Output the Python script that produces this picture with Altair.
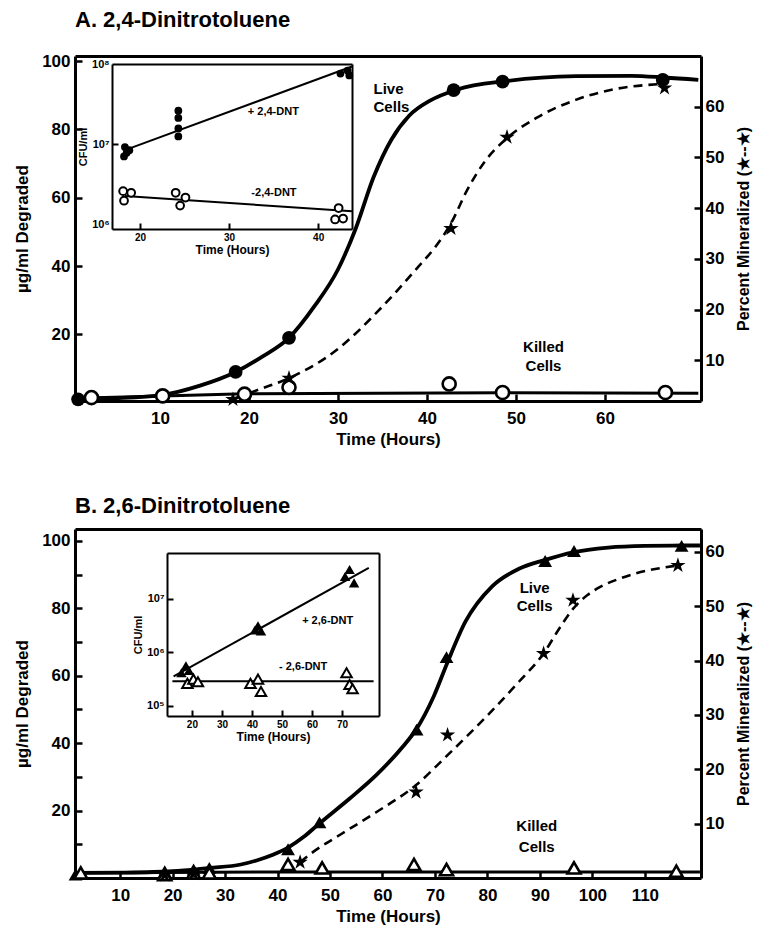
import altair as alt
import pandas as pd

FONT = "Liberation Sans"
STAR = ("M0,-1L0.2245,-0.309L0.951,-0.309L0.363,0.118L0.588,0.809L0,0.382"
        "L-0.588,0.809L-0.363,0.118L-0.951,-0.309L-0.2245,-0.309Z")

# ---------------- Panel A: 2,4-Dinitrotoluene ----------------
a_live_t = [0.8, 18.5, 24.5, 43.0, 48.5, 66.5]
a_live_v = [1.0, 9.0, 19.0, 91.5, 94.0, 94.5]
a_livecurve_t = [0.5, 5, 10.3, 14.5, 18.5, 21.5, 24.5, 27.4, 30.0, 32.0, 34.0, 36.0, 38.0,
                 40.4, 43.4, 49.0, 56.8, 63.0, 66.7, 70.5]
a_livecurve_v = [1.0, 1.3, 2.3, 5.0, 9.0, 13.5, 19.0, 28.4, 39.0, 51.0, 66.0, 77.0, 84.0,
                 88.5, 91.7, 94.2, 95.6, 95.7, 95.2, 94.5]
a_killed_t = [2.3, 10.3, 19.5, 24.5, 42.5, 48.5, 66.8]
a_killed_v = [1.5, 2.0, 2.5, 4.5, 5.5, 3.0, 3.0]
a_killedline_t = [0.5, 10.3, 19.5, 48.5, 70.5]
a_killedline_v = [1.3, 2.0, 2.6, 2.9, 2.8]
a_star_t = [18.2, 24.5, 42.7, 49.0, 66.7]
a_star_p = [2.3, 6.5, 36.0, 54.0, 63.7]
a_dash_t = [18.5, 21.5, 24.5, 30.1, 34.5, 38.9, 41.0, 42.7, 44.5, 46.5, 49.0, 52.3, 56.8,
            61.2, 66.7]
a_dash_p = [2.6, 4.5, 6.5, 12.4, 19.7, 28.2, 32.5, 37.0, 43.5, 49.2, 53.8, 57.8, 61.4,
            63.5, 64.5]
a_text_t = [34.0, 34.0, 53.1, 53.1]
a_text_v = [91.8, 86.5, 16.4, 10.8]
a_text_s = ["Live", "Cells", "Killed", "Cells"]
a_text_al = ["left", "left", "center", "center"]

# inset A (CFU/ml)
ai_fill_t = [18.2, 18.5, 18.3, 18.8, 24.3, 24.3, 24.3, 24.3, 42.5, 43.3, 43.5]
ai_fill_c = [7.1e6, 7.9e6, 9.3e6, 8.5e6, 1.26e7, 1.58e7, 2.14e7, 2.63e7, 7.6e7, 8.3e7, 7.2e7]
ai_open_t = [18.1, 19.0, 18.2, 24.0, 25.1, 24.5, 42.3, 41.9, 42.8]
ai_open_c = [2.63e6, 2.51e6, 2.0e6, 2.51e6, 2.19e6, 1.74e6, 1.62e6, 1.17e6, 1.2e6]
ai_line_t = [18.3, 43.8, 18.3, 43.8]
ai_line_c = [8.5e6, 9.3e7, 2.29e6, 1.48e6]
ai_line_g = ["plus", "plus", "minus", "minus"]
ai_text_t = [32.1, 32.5]
ai_text_c = [2.5e7, 2.5e6]
ai_text_s = ["+ 2,4-DNT", "-2,4-DNT"]

# ---------------- Panel B: 2,6-Dinitrotoluene ----------------
b_live_t = [1.5, 18.5, 24.0, 27.0, 42.0, 48.0, 66.5, 72.2, 91.0, 96.5, 117.0]
b_live_v = [1.0, 2.0, 2.5, 3.0, 8.5, 16.5, 44.0, 65.5, 94.0, 97.0, 98.5]
b_livecurve_t = [1.4, 10, 20, 27, 33, 36, 39, 42.0, 45.0, 47.7, 53.7, 58.8, 63.9, 66.4, 69.8,
                 72.4, 75.8, 80.9, 86.0, 90.7, 96.3, 103, 110, 117, 120.5]
b_livecurve_v = [1.5, 1.6, 2.0, 3.0, 4.0, 5.2, 6.8, 9.0, 12.2, 15.8, 23.5, 30.5, 39.0, 44.0,
                 54.0, 64.0, 76.0, 86.5, 91.7, 94.2, 96.6, 98.0, 98.5, 98.6, 98.6]
b_killed_t = [2.5, 18.5, 24.0, 27.0, 42.0, 48.5, 66.0, 72.2, 96.5, 116.0]
b_killed_v = [1.5, 1.0, 1.5, 1.5, 4.0, 3.0, 4.0, 2.5, 3.0, 2.0]
b_killedline_t = [1.4, 40, 120.5]
b_killedline_v = [1.5, 1.8, 1.8]
b_star_t = [18.5, 24.0, 44.3, 66.4, 72.4, 90.7, 96.3, 116.3]
b_star_p = [0.5, 0.8, 2.9, 15.8, 26.3, 41.3, 51.1, 57.5]
b_dash_t = [44.3, 46.8, 52, 58.8, 66.4, 72.4, 80.0, 86.0, 90.7, 93.7, 96.3, 99.0, 101.4,
            105.0, 108.2, 116.3]
b_dash_p = [2.9, 4.8, 8.0, 12.1, 17.1, 22.6, 29.9, 36.1, 41.3, 45.9, 49.5, 52.0, 53.5,
            55.0, 56.0, 57.5]
b_text_t = [89.0, 89.0, 89.4, 89.4]
b_text_v = [85.9, 80.6, 15.3, 9.2]
b_text_s = ["Live", "Cells", "Killed", "Cells"]
b_text_al = ["center", "center", "center", "center"]

# inset B (CFU/ml)
bi_fill_t = [16.5, 18.0, 19.0, 41.0, 42.0, 43.0, 71.0, 72.5, 74.0]
bi_fill_c = [4.17e5, 5.62e5, 4.57e5, 2.63e6, 3.16e6, 2.51e6, 2.63e7, 3.55e7, 2.0e7]
bi_open_t = [18.5, 20.5, 22.0, 39.5, 42.0, 43.0, 71.5, 72.5, 73.5]
bi_open_c = [2.63e5, 3.16e5, 2.82e5, 2.63e5, 3.16e5, 1.86e5, 4.17e5, 2.51e5, 2.09e5]
bi_line_t = [13.9, 78.9, 13.5, 80.5]
bi_line_c = [3.55e5, 3.8e7, 2.9e5, 2.9e5]
bi_line_g = ["plus", "plus", "minus", "minus"]
bi_text_t = [56.7, 49.0]
bi_text_c = [3.9e6, 5.4e5]
bi_text_s = ["+ 2,6-DNT", "- 2,6-DNT"]

W = 626
SUP = ("datum.value >= 5e7 ? '10\u2078' : datum.value >= 5e6 ? '10\u2077' : "
       "datum.value >= 5e5 ? '10\u2076' : '10\u2075'")


def X(field, scale):
    return alt.X(field, type="quantitative", scale=scale, axis=None)


def Y(field, scale):
    return alt.Y(field, type="quantitative", scale=scale, axis=None)


def ghost(xs, ys, xv, yv, xaxis=None, yaxis=None):
    d = pd.DataFrame({"x": [xv], "y": [yv]})
    return alt.Chart(d).mark_point(opacity=0).encode(
        x=alt.X("x:Q", scale=xs, axis=xaxis),
        y=alt.Y("y:Q", scale=ys, axis=yaxis),
    )


def tick_axis(orient, offset, values, size=7, width=2.5):
    return alt.Axis(orient=orient, offset=offset, values=values, labels=False,
                    domain=False, ticks=True, tickSize=size, tickWidth=width,
                    tickColor="black", title=None, grid=False)


def frame_axis(orient, offset, width=2):
    return alt.Axis(orient=orient, offset=offset, labels=False, domain=True,
                    domainWidth=width, domainColor="black", ticks=False, title=None,
                    grid=False)


def panel(H, xs, ys, ps, ixs, iys, ix_rng, iy_rng,
          xvals, yvals, ytickvals, live_shape, killed_shape,
          live_t, live_v, lc_t, lc_v, k_t, k_v, kl_t, kl_v,
          s_t, s_p, d_t, d_p, tx_t, tx_v, tx_s, tx_al,
          if_t, if_c, io_t, io_c, il_t, il_c, il_g, it_t, it_c, it_s,
          ixvals, iyvals, iytick, isize, title, title_offset):
    x0 = xs.domain[0]
    y0 = ys.domain[0]
    p0 = ps.domain[0]
    ix0 = ixs.domain[0]
    iy0 = iys.domain[1]
    layers = []
    # main labelled axes (their domain lines draw the frame)
    layers.append(ghost(xs, ys, x0, y0,
                        alt.Axis(orient="bottom", values=xvals, title="Time (Hours)",
                                 ticks=False, tickSize=0, domain=True, domainWidth=3,
                                 labelPadding=9, titlePadding=5, labelFontSize=17,
                                 titleFontSize=17),
                        alt.Axis(orient="left", values=yvals, title="\u00b5g/ml Degraded",
                                 ticks=False, tickSize=0, domain=True, domainWidth=3,
                                 labelPadding=5, titlePadding=10, labelFontSize=17,
                                 titleFontSize=17)))
    # inward ticks + top frame line
    layers.append(ghost(xs, ys, x0, y0, tick_axis("top", -H, xvals),
                        tick_axis("right", -W, ytickvals)))
    layers.append(ghost(xs, ys, x0, y0, frame_axis("top", 0, 3), None))
    # right percent axis
    layers.append(ghost(xs, ps, x0, p0, None,
                        alt.Axis(orient="right", values=[10, 20, 30, 40, 50, 60],
                                 title="Percent Mineralized (\u2605--\u2605)",
                                 ticks=False, tickSize=0, domain=True, domainWidth=3,
                                 labelPadding=4, titlePadding=28, titleAngle=270,
                                 labelFontSize=17, titleFontSize=16)))
    layers.append(ghost(xs, ps, x0, p0, None,
                        tick_axis("left", -W, [10, 20, 30, 40, 50, 60])))

    kl = pd.DataFrame({"t": kl_t, "v": kl_v})
    lc = pd.DataFrame({"t": lc_t, "v": lc_v})
    dd = pd.DataFrame({"t": d_t, "p": d_p})
    layers.append(alt.Chart(kl).mark_line(color="black", strokeWidth=3).encode(
        x=X("t", xs), y=Y("v", ys)))
    layers.append(alt.Chart(lc).mark_line(color="black", strokeWidth=3.8,
                                          interpolate="monotone").encode(
        x=X("t", xs), y=Y("v", ys)))
    layers.append(alt.Chart(dd).mark_line(color="black", strokeWidth=2.6,
                                          strokeDash=[9, 6], interpolate="monotone").encode(
        x=X("t", xs), y=Y("p", ps)))
    layers.append(alt.Chart(pd.DataFrame({"t": live_t, "v": live_v})).mark_point(
        shape=live_shape, filled=True, color="black", size=190, opacity=1).encode(
        x=X("t", xs), y=Y("v", ys)))
    layers.append(alt.Chart(pd.DataFrame({"t": k_t, "v": k_v})).mark_point(
        shape=killed_shape, filled=True, fill="white", stroke="black", strokeWidth=2.6,
        size=170, opacity=1).encode(x=X("t", xs), y=Y("v", ys)))
    layers.append(alt.Chart(pd.DataFrame({"t": s_t, "p": s_p})).mark_point(
        shape=STAR, filled=True, color="black", size=260, opacity=1).encode(
        x=X("t", xs), y=Y("p", ps)))
    tx = pd.DataFrame({"t": tx_t, "v": tx_v, "s": tx_s, "al": tx_al})
    for al in ["left", "center"]:
        sub = tx[tx["al"] == al]
        if len(sub):
            layers.append(alt.Chart(sub).mark_text(
                font=FONT, fontSize=15, fontWeight="bold", color="black", align=al,
                baseline="middle").encode(x=X("t", xs), y=Y("v", ys), text="s:N"))

    # ---- inset ----
    il = pd.DataFrame({"t": il_t, "c": il_c, "g": il_g})
    layers.append(alt.Chart(il).mark_line(color="black", strokeWidth=2).encode(
        x=X("t", ixs), y=Y("c", iys), detail="g:N"))
    layers.append(alt.Chart(pd.DataFrame({"t": if_t, "c": if_c})).mark_point(
        shape=live_shape, filled=True, color="black", size=isize, opacity=1).encode(
        x=X("t", ixs), y=Y("c", iys)))
    layers.append(alt.Chart(pd.DataFrame({"t": io_t, "c": io_c})).mark_point(
        shape=killed_shape, filled=True, fill="white", stroke="black", strokeWidth=2,
        size=isize, opacity=1).encode(x=X("t", ixs), y=Y("c", iys)))
    # inset labelled axes (bottom + left), inward ticks, and top/right frame lines
    layers.append(ghost(ixs, iys, ix0, iy0,
                        alt.Axis(orient="bottom", offset=-(H - iy_rng[0]), values=ixvals,
                                 title="Time (Hours)", ticks=False, tickSize=0,
                                 domain=True, domainWidth=2, domainColor="black",
                                 labelPadding=3, titlePadding=2, labelFontSize=10,
                                 titleFontSize=12),
                        alt.Axis(orient="left", offset=-ix_rng[0], values=iyvals,
                                 labelExpr=SUP, title="CFU/ml", ticks=False, tickSize=0,
                                 domain=True, domainWidth=2, domainColor="black",
                                 labelPadding=3, titlePadding=3, labelFontSize=11,
                                 titleFontSize=11)))
    layers.append(ghost(ixs, iys, ix0, iy0,
                        tick_axis("top", -iy_rng[0], ixvals, size=6, width=2),
                        tick_axis("right", -(W - ix_rng[0]), iytick, size=6, width=2)))
    layers.append(ghost(ixs, iys, ix0, iy0,
                        frame_axis("top", -iy_rng[1]),
                        frame_axis("right", -(W - ix_rng[1]))))
    layers.append(alt.Chart(pd.DataFrame({"t": it_t, "c": it_c, "s": it_s})).mark_text(
        font=FONT, fontSize=11, fontWeight="bold", color="black", align="left",
        baseline="middle").encode(x=X("t", ixs), y=Y("c", iys), text="s:N"))

    return alt.layer(*layers).resolve_scale(x="independent", y="independent").properties(
        width=W, height=H,
        title=alt.TitleParams(title, anchor="start", frame="group", offset=title_offset,
                              fontSize=22, font=FONT, fontWeight="bold", color="black"))


HA, HB = 345, 349
xA = alt.Scale(domain=[0.45, 70.8], nice=False, zero=False)
yA = alt.Scale(domain=[0.5, 101.5], nice=False, zero=False)
pA = alt.Scale(domain=[2, 70], nice=False, zero=False)
iA_rx = [37, 277]
iA_ry = [173, 8]
ixA = alt.Scale(domain=[16.85, 43.8], range=iA_rx, nice=False, zero=False)
iyA = alt.Scale(type="log", domain=[8.9e5, 1.0e8], range=iA_ry, nice=False)

xB = alt.Scale(domain=[1.4, 120.7], nice=False, zero=False)
yB = alt.Scale(domain=[0, 103.5], nice=False, zero=False)
pB = alt.Scale(domain=[0, 64.2], nice=False, zero=False)
iB_rx = [92, 304]
iB_ry = [187, 24]
ixB = alt.Scale(domain=[11.7, 82.3], range=iB_rx, nice=False, zero=False)
iyB = alt.Scale(type="log", domain=[6.46e4, 7.24e7], range=iB_ry, nice=False)

panelA = panel(HA, xA, yA, pA, ixA, iyA, iA_rx, iA_ry,
               [10, 20, 30, 40, 50, 60], [20, 40, 60, 80, 100], [20, 40, 60, 80, 100],
               "circle", "circle",
               a_live_t, a_live_v, a_livecurve_t, a_livecurve_v, a_killed_t, a_killed_v,
               a_killedline_t, a_killedline_v, a_star_t, a_star_p, a_dash_t, a_dash_p,
               a_text_t, a_text_v, a_text_s, a_text_al,
               ai_fill_t, ai_fill_c, ai_open_t, ai_open_c, ai_line_t, ai_line_c, ai_line_g,
               ai_text_t, ai_text_c, ai_text_s,
               [20, 30, 40], [1e6, 1e7, 1e8], [1e7], 60,
               "A. 2,4-Dinitrotoluene", 20)

panelB = panel(HB, xB, yB, pB, ixB, iyB, iB_rx, iB_ry,
               [10, 20, 30, 40, 50, 60, 70, 80, 90, 100, 110], [20, 40, 60, 80, 100],
               [10, 20, 30, 40, 50, 60, 70, 80, 90, 100],
               "triangle-up", "triangle-up",
               b_live_t, b_live_v, b_livecurve_t, b_livecurve_v, b_killed_t, b_killed_v,
               b_killedline_t, b_killedline_v, b_star_t, b_star_p, b_dash_t, b_dash_p,
               b_text_t, b_text_v, b_text_s, b_text_al,
               bi_fill_t, bi_fill_c, bi_open_t, bi_open_c, bi_line_t, bi_line_c, bi_line_g,
               bi_text_t, bi_text_c, bi_text_s,
               [20, 30, 40, 50, 60, 70], [1e5, 1e6, 1e7], [1e5, 1e6, 1e7], 110,
               "B. 2,6-Dinitrotoluene", 11)

chart = alt.vconcat(panelA, panelB, spacing=46).properties(
    padding={"left": 5, "top": 0, "right": 5, "bottom": 0}, background="white"
).configure_view(stroke="transparent").configure_axis(
    grid=False, labelFont=FONT, titleFont=FONT, labelColor="black", titleColor="black",
    labelFontWeight="bold", titleFontWeight="bold", tickColor="black", domainColor="black"
)

chart.save("out.html", embed_options={"renderer": "svg", "actions": False})
